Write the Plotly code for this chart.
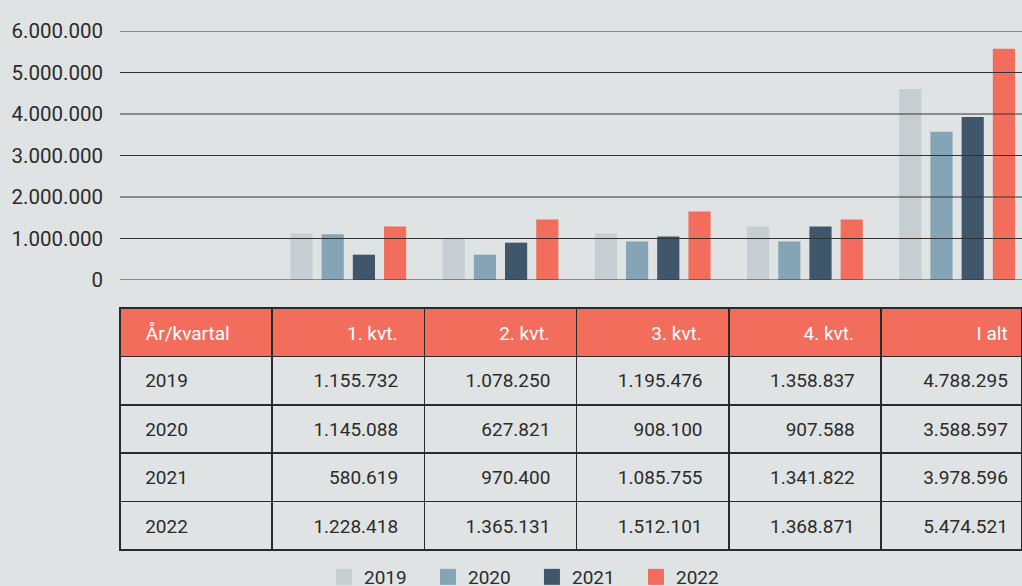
import plotly.graph_objects as go

# ---- data ----
years = ["2019", "2020", "2021", "2022"]
categories = ["År/kvartal", "1. kvt.", "2. kvt.", "3. kvt.", "4. kvt.", "I alt"]
# bar heights (per year: Q1, Q2, Q3, Q4, total)
bar_2019 = [1120000, 1000000, 1120000, 1290000, 4600000]
bar_2020 = [1100000, 610000, 930000, 930000, 3570000]
bar_2021 = [610000, 900000, 1050000, 1290000, 3930000]
bar_2022 = [1290000, 1460000, 1650000, 1460000, 5570000]
# table values
q1 = [1155732, 1145088, 580619, 1228418]
q2 = [1078250, 627821, 970400, 1365131]
q3 = [1195476, 908100, 1085755, 1512101]
q4 = [1358837, 907588, 1341822, 1368871]
total = [4788295, 3588597, 3978596, 5474521]
y_ticks = [0, 1000000, 2000000, 3000000, 4000000, 5000000, 6000000]

colors = ["#c6ced3", "#85a5b6", "#3f566b", "#f36d5c"]
BG = "#e0e3e3"
TXT = "#2b2b2b"
FONT = "Roboto"

W, H = 1022, 586
x_left = 120
col_w = 152.2
plot_top, plot_bot = 31, 280
tab_top, tab_bot = 308, 550

NB = "\u00a0"
THIN = "\u2009"

def fmt(v):
    return f"{v:,}".replace(",", ".")

def left_cell(t):
    # padding spaces in the (larger) cell font lift the text box so the 19px text sits centred;
    # trailing <br> disables plotly's word-wrapping
    return f'{NB * 2}{THIN}<span style="font-size:19px">{t}</span><br>'

def right_cell(t, n=3):
    return f'<span style="font-size:19px">{t}</span>{NB * n}<br>'

fig = go.Figure()

bar_series = [bar_2019, bar_2020, bar_2021, bar_2022]
for yr, vals, c in zip(years, bar_series, colors):
    fig.add_trace(go.Bar(x=categories[1:], y=vals, name=yr, marker=dict(color=c, line_width=0),
                         showlegend=False, hoverinfo="skip"))
    fig.add_trace(go.Scatter(x=[None], y=[None], mode="markers", name=yr,
                             marker=dict(symbol="square", size=20, color=c)))

# gridlines drawn above the bars
for t in y_ticks:
    fig.add_shape(type="line", xref="paper", yref="y", x0=x_left / W, x1=1, y0=t, y1=t,
                  line=dict(color="#333333", width=1.2), layer="above")

# table (last column is cut by the page edge, so its text sits closer to the edge)
pads = [3, 3, 3, 3, 1]
header_vals = [left_cell(categories[0])] + [right_cell(c, n) for c, n in zip(categories[1:], pads)]
cols = [[left_cell(y) for y in years]] + [[right_cell(fmt(v), n) for v in arr]
                                           for arr, n in zip((q1, q2, q3, q4, total), pads)]
row_h = (tab_bot - tab_top) / 5
fig.add_trace(go.Table(
    domain=dict(x=[x_left / W, 1], y=[1 - (tab_bot + 6) / H, 1 - tab_top / H]),
    columnwidth=[col_w] * 5 + [W - x_left - 5 * col_w],
    header=dict(values=header_vals, fill_color="#f36d5c",
                line=dict(color="#2a2a2a", width=1.5),
                font=dict(family=FONT, size=25.5, color="white"),
                align=["left"] + ["right"] * 5, height=row_h),
    cells=dict(values=cols, fill_color=BG,
               line=dict(color="#2a2a2a", width=1.5),
               font=dict(family=FONT, size=24.5, color=TXT),
               align=["left"] + ["right"] * 5, height=row_h),
))

fig.update_layout(
    width=W, height=H,
    margin=dict(l=0, r=0, t=0, b=0, autoexpand=False),
    paper_bgcolor=BG, plot_bgcolor=BG,
    font=dict(family=FONT, color=TXT, size=18),
    separators=",.",
    barmode="group", bargap=0.18, bargroupgap=0.29,
    xaxis=dict(domain=[x_left / W, 1], type="category", categoryorder="array",
               categoryarray=categories, range=[-0.5, -0.5 + (W - x_left) / col_w],
               showticklabels=False, showgrid=False, zeroline=False, showline=False, fixedrange=True),
    yaxis=dict(domain=[1 - plot_bot / H, 1 - plot_top / H], range=[0, 6000000],
               tickvals=y_ticks, tickformat=",d", showgrid=False, zeroline=False, showline=False,
               ticks="", ticklabelstandoff=16, tickfont=dict(size=20.5, color=TXT), fixedrange=True),
    legend=dict(orientation="h", x=0.5205, xanchor="center",
                y=1 - 577 / H, yanchor="middle",
                font=dict(size=19, color=TXT), entrywidth=59, bgcolor="rgba(0,0,0,0)"),
    showlegend=True,
)

fig.write_html("out.html", config={"displayModeBar": False},
               post_script="document.body.style.margin='0';")
